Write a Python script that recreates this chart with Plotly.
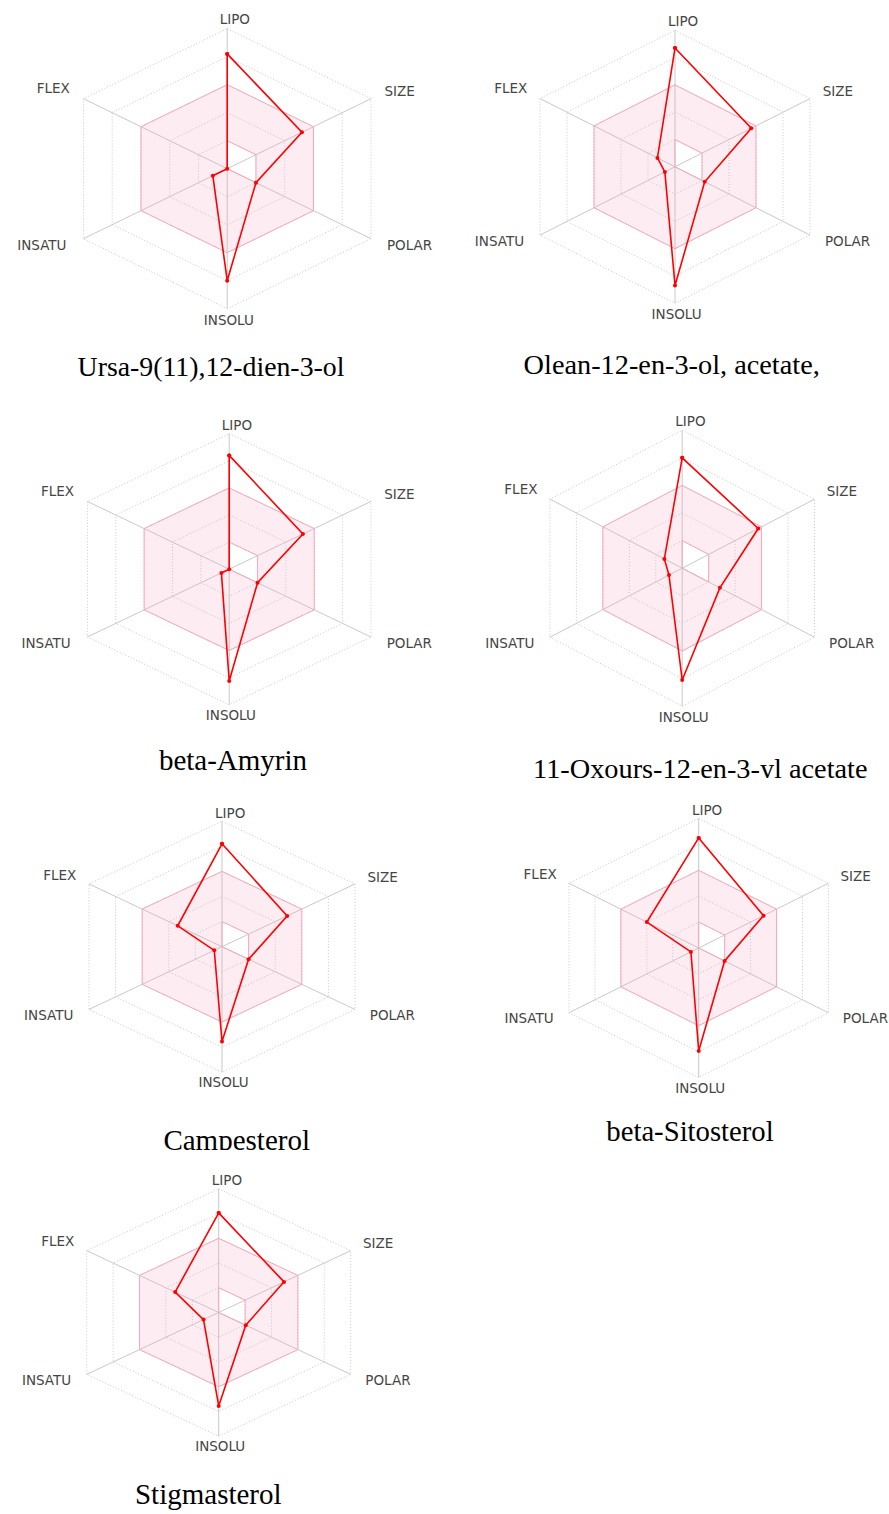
import math
import plotly.graph_objects as go

# Bioavailability radar axes, clockwise from the top
AXES = ["LIPO", "SIZE", "POLAR", "INSOLU", "INSATU", "FLEX"]
ANGLES = [90, 30, -30, -90, -150, 150]

compounds = [
    "Ursa-9(11),12-dien-3-ol",
    "Olean-12-en-3-ol, acetate,",
    "beta-Amyrin",
    "11-Oxours-12-en-3-yl acetate",
    "Campesterol",
    "beta-Sitosterol",
    "Stigmasterol",
]

# Normalised radar scores (0 = centre, 1 = outer ring)
lipo = [0.82, 0.87, 0.84, 0.80, 0.82, 0.85, 0.805]
size = [0.52, 0.565, 0.52, 0.575, 0.49, 0.50, 0.495]
polar = [0.20, 0.22, 0.20, 0.285, 0.20, 0.20, 0.205]
insolu = [0.80, 0.87, 0.825, 0.81, 0.755, 0.795, 0.755]
insatu = [0.10, 0.075, 0.055, 0.10, 0.058, 0.06, 0.115]
flex = [0.0, 0.13, 0.0, 0.135, 0.333, 0.40, 0.33]

# Optimal (pink) zone bounds per axis
pink_outer = [0.6, 0.6, 0.6, 0.6, 0.6, 0.6]
pink_inner = [0.2, 0.2, 0.2, 0.0, 0.0, 0.0]
rings = [0.2, 0.4, 0.6, 0.8, 1.0]

W, H = 889, 1514

# Panel layout in pixels: cell box, radar centre, px per unit (vertical / horizontal),
# title centre x, title baseline y, title font size
panels = [
    dict(cell=(0, 445, 0, 395), c=(227.2, 168.7), rv=140.0, rh=166.0, title=(211.0, 378.3, 27.8)),
    dict(cell=(445, 889, 0, 395), c=(675.0, 166.8), rv=136.5, rh=155.9, title=(671.7, 376.7, 28.3)),
    dict(cell=(0, 445, 395, 790), c=(229.2, 569.2), rv=135.5, rh=163.7, title=(233.0, 773.3, 29.0)),
    dict(cell=(445, 889, 395, 778), c=(682.2, 568.2), rv=138.0, rh=152.7, title=(700.3, 781.0, 28.3)),
    dict(cell=(0, 445, 790, 1150), c=(222.0, 946.7), rv=125.5, rh=153.6, title=(236.7, 1152.5, 29.0)),
    dict(cell=(445, 889, 790, 1160), c=(698.7, 948.0), rv=129.5, rh=149.8, title=(690.0, 1144.0, 28.7)),
    dict(cell=(0, 445, 1160, 1514), c=(218.7, 1312.5), rv=123.7, rh=152.4, title=(208.3, 1506.7, 29.0)),
]

# Axis label placement in radar units: (x, y, textposition)
label_pos = {
    "LIPO": (-0.045, 1.055, "middle right"),
    "SIZE": (0.947, 0.545, "middle right"),
    "POLAR": (0.962, -0.556, "middle right"),
    "INSOLU": (0.01, -1.09, "middle center"),
    "INSATU": (-0.968, -0.556, "middle left"),
    "FLEX": (-0.948, 0.562, "middle left"),
}

GRID = "#c9c9c9"
PINK_LINE = "#f3a9bb"
PINK_FILL = "rgba(245,165,190,0.2)"
RED = "#ff0000"
LABEL_FONT = dict(family="DejaVu Sans, sans-serif", size=13.5, color="#454545")
TITLE_FAMILY = "Liberation Serif, DejaVu Serif, serif"


def to_xy(vals, close=True):
    xs = [v * math.cos(math.radians(a)) for v, a in zip(vals, ANGLES)]
    ys = [v * math.sin(math.radians(a)) for v, a in zip(vals, ANGLES)]
    if close:
        xs.append(xs[0])
        ys.append(ys[0])
    return xs, ys


fig = go.Figure()
layout_axes = {}

for i, (p, name) in enumerate(zip(panels, compounds)):
    k = "" if i == 0 else str(i + 1)
    xa, ya = "x" + k, "y" + k
    x0, x1, y0, y1 = p["cell"]
    cx, cy = p["c"]
    rv, rh = p["rv"], p["rh"]

    layout_axes["xaxis" + k] = dict(
        domain=[x0 / W, x1 / W], range=[(x0 - cx) / rh, (x1 - cx) / rh],
        visible=False, fixedrange=True, anchor=ya,
    )
    layout_axes["yaxis" + k] = dict(
        domain=[1 - y1 / H, 1 - y0 / H], range=[(cy - y1) / rv, (cy - y0) / rv],
        visible=False, fixedrange=True, anchor=xa,
    )
    common = dict(xaxis=xa, yaxis=ya, hoverinfo="skip", showlegend=False)

    # Hexagonal rings (fine dotted)
    for r in rings:
        gx, gy = to_xy([r] * 6)
        fig.add_trace(go.Scatter(x=gx, y=gy, mode="lines",
                                 line=dict(color=GRID, width=1, dash="1px,2px"), **common))
    # Spokes
    for a in ANGLES:
        sx = [0, math.cos(math.radians(a))]
        sy = [0, math.sin(math.radians(a))]
        fig.add_trace(go.Scatter(x=sx, y=sy, mode="lines",
                                 line=dict(color=GRID, width=1), **common))

    # Pink optimal zone: outer hexagon with the inner bound cut out
    ox, oy = to_xy(pink_outer)
    ix, iy = to_xy(pink_inner)
    zx = ox + ix[::-1] + [ox[0]]
    zy = oy + iy[::-1] + [oy[0]]
    fig.add_trace(go.Scatter(x=zx, y=zy, mode="lines", fill="toself",
                             fillcolor=PINK_FILL, line=dict(width=0), **common))
    fig.add_trace(go.Scatter(x=ox, y=oy, mode="lines",
                             line=dict(color=PINK_LINE, width=1), **common))
    fig.add_trace(go.Scatter(x=ix, y=iy, mode="lines",
                             line=dict(color=PINK_LINE, width=1), **common))

    # Compound profile
    vals = [lipo[i], size[i], polar[i], insolu[i], insatu[i], flex[i]]
    dx, dy = to_xy(vals)
    fig.add_trace(go.Scatter(x=dx, y=dy, mode="lines+markers",
                             line=dict(color=RED, width=1.6),
                             marker=dict(color=RED, size=4), **common))

    # Axis labels
    for ax_name in AXES:
        lx, ly, tp = label_pos[ax_name]
        fig.add_trace(go.Scatter(x=[lx], y=[ly], mode="text", text=[ax_name],
                                 textposition=tp, textfont=LABEL_FONT,
                                 cliponaxis=False, **common))

    # Compound name below the radar
    tx, tb, ts = p["title"]
    fig.add_trace(go.Scatter(
        x=[(tx - cx) / rh], y=[(cy - (tb - 0.35 * ts)) / rv], mode="text", text=[name],
        textposition="middle center", cliponaxis=True,
        textfont=dict(family=TITLE_FAMILY, size=ts, color="#000000"), **common))

fig.update_layout(
    width=W, height=H,
    margin=dict(l=0, r=0, t=0, b=0),
    paper_bgcolor="white", plot_bgcolor="white",
    showlegend=False,
    **layout_axes,
)

fig.write_html("out.html")
